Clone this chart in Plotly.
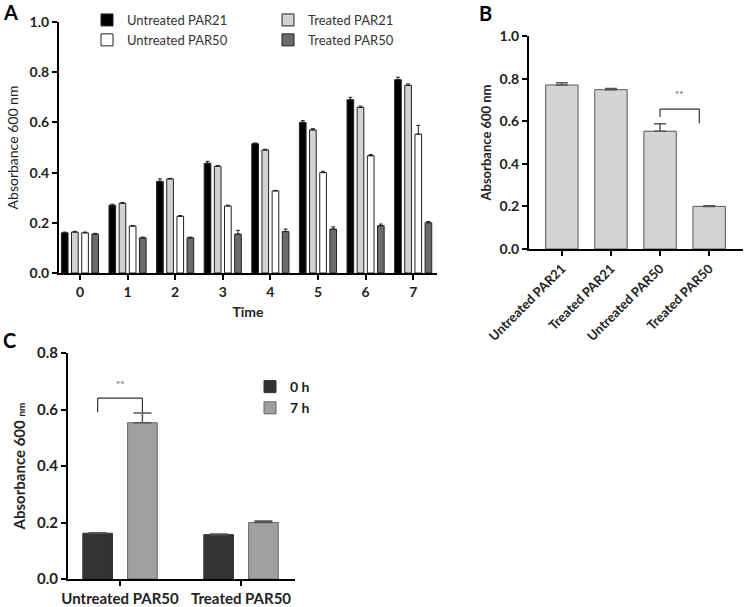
import plotly.graph_objects as go

# Panel A - growth over time
time_h = [0, 1, 2, 3, 4, 5, 6, 7]
untreated_par21 = [0.160, 0.270, 0.365, 0.437, 0.515, 0.600, 0.690, 0.770]
untreated_par21_err = [0.003, 0.004, 0.010, 0.008, 0.003, 0.007, 0.010, 0.010]
treated_par21 = [0.163, 0.278, 0.375, 0.425, 0.490, 0.570, 0.660, 0.748]
treated_par21_err = [0.003, 0.003, 0.002, 0.003, 0.003, 0.005, 0.005, 0.005]
untreated_par50 = [0.160, 0.187, 0.226, 0.267, 0.327, 0.400, 0.467, 0.553]
untreated_par50_err = [0.003, 0.002, 0.003, 0.003, 0.002, 0.005, 0.005, 0.035]
treated_par50 = [0.155, 0.140, 0.140, 0.155, 0.165, 0.175, 0.188, 0.200]
treated_par50_err = [0.003, 0.003, 0.003, 0.015, 0.010, 0.009, 0.007, 0.005]

# Panel B - 7 h values
groups_b = ["Untreated PAR21", "Treated PAR21", "Untreated PAR50", "Treated PAR50"]
values_b = [0.770, 0.748, 0.553, 0.200]
errors_b = [0.010, 0.005, 0.035, 0.003]

# Panel C - 0 h vs 7 h
groups_c = ["Untreated PAR50", "Treated PAR50"]
values_0h = [0.162, 0.157]
errors_0h = [0.002, 0.002]
values_7h = [0.553, 0.200]
errors_7h = [0.035, 0.005]

W, H = 748, 607
FONT = "Lato"


def px_x(p):
    return p / W


def px_y(p):
    return 1 - p / H


fig = go.Figure()

series_a = [
    ("Untreated PAR21", untreated_par21, untreated_par21_err, "#000000", "legend"),
    ("Treated PAR21", treated_par21, treated_par21_err, "#d2d2d2", "legend2"),
    ("Untreated PAR50", untreated_par50, untreated_par50_err, "#ffffff", "legend"),
    ("Treated PAR50", treated_par50, treated_par50_err, "#6b6b6b", "legend2"),
]
bw = 0.14
centers = [-0.32, -0.107, 0.107, 0.32]
for k, (name, vals, errs, col, leg) in enumerate(series_a):
    fig.add_trace(go.Bar(
        x=time_h, y=vals, name=name, legend=leg,
        width=bw, offset=centers[k] - bw / 2,
        marker=dict(color=col, line=dict(color="#222222", width=1)),
        error_y=dict(type="data", array=errs, arrayminus=[0] * len(errs),
                     symmetric=False, color="#222222", thickness=1, width=2),
        xaxis="x", yaxis="y"))

fig.add_trace(go.Bar(
    x=list(range(len(groups_b))), y=values_b, showlegend=False,
    width=0.66,
    marker=dict(color="#d4d4d4", line=dict(color="#555555", width=1)),
    error_y=dict(type="data", array=errors_b, arrayminus=[0] * 4,
                 symmetric=False, color="#555555", thickness=1.5, width=6),
    xaxis="x2", yaxis="y2"))

bwc = 0.245
for name, vals, errs, col, lc, off in [
        ("0 h", values_0h, errors_0h, "#333333", "#333333", -0.185),
        ("7 h", values_7h, errors_7h, "#a0a0a0", "#666666", 0.185)]:
    fig.add_trace(go.Bar(
        x=list(range(len(groups_c))), y=vals, name=name, legend="legend3",
        width=bwc, offset=off - bwc / 2,
        marker=dict(color=col, line=dict(color=lc, width=1)),
        error_y=dict(type="data", array=errs, arrayminus=[0] * len(errs),
                     symmetric=False, color="#555555", thickness=1.5, width=9),
        xaxis="x3", yaxis="y3"))

axis_common = dict(showline=True, linecolor="black", linewidth=2, showgrid=False,
                   zeroline=False, ticks="outside", tickcolor="black", tickwidth=2,
                   ticklen=5, automargin=False,
                   tickfont=dict(family=FONT, size=14, color="#222222", weight="bold"))

fig.update_layout(
    width=W, height=H, autosize=False,
    margin=dict(l=0, r=0, t=0, b=0),
    paper_bgcolor="white", plot_bgcolor="white",
    barmode="group",
    font=dict(family=FONT, color="#222222"),
    xaxis=dict(axis_common, domain=[px_x(59), px_x(437)], anchor="y",
               range=[-0.44, 7.5], tickvals=time_h, ticktext=[str(t) for t in time_h],
               title=dict(text="Time", font=dict(size=14, weight="bold"), standoff=8)),
    yaxis=dict(axis_common, domain=[px_y(273), px_y(22)], anchor="x",
               range=[0, 1.0], dtick=0.2, tickformat=".1f",
               title=dict(text="Absorbance 600 nm", font=dict(size=14), standoff=8)),
    xaxis2=dict(axis_common, domain=[px_x(529), px_x(743)], anchor="y2",
                range=[-0.67, 3.69], tickvals=list(range(len(groups_b))), ticktext=groups_b,
                tickangle=-45, tickfont=dict(family=FONT, size=13, color="#222222", weight="bold")),
    yaxis2=dict(axis_common, domain=[px_y(249), px_y(36)], anchor="x2",
                range=[0, 1.0], dtick=0.2, tickformat=".1f",
                title=dict(text="Absorbance 600 nm", font=dict(size=13, weight="bold"), standoff=5)),
    xaxis3=dict(axis_common, domain=[px_x(68), px_x(295)], anchor="y3",
                range=[-0.43, 1.446], tickvals=list(range(len(groups_c))), ticktext=groups_c,
                tickfont=dict(family=FONT, size=15, color="#222222", weight="bold")),
    yaxis3=dict(axis_common, domain=[px_y(579), px_y(353)], anchor="x3",
                range=[0, 0.8], dtick=0.2, tickformat=".1f",
                tickfont=dict(family=FONT, size=15, color="#222222", weight="bold"),
                title=dict(text="Absorbance 600 <span style='font-size:10px'>nm</span>",
                           font=dict(size=15, weight="bold"), standoff=8)),
    legend=dict(x=px_x(87), y=px_y(5), xanchor="left", yanchor="top",
                font=dict(size=13, color="#333333"), bgcolor="rgba(0,0,0,0)",
                tracegroupgap=0, itemwidth=30),
    legend2=dict(x=px_x(268), y=px_y(5), xanchor="left", yanchor="top",
                 font=dict(size=13, color="#333333"), bgcolor="rgba(0,0,0,0)",
                 tracegroupgap=0, itemwidth=30),
    legend3=dict(x=px_x(250), y=px_y(371), xanchor="left", yanchor="top",
                 font=dict(size=14, color="#222222", weight="bold"), bgcolor="rgba(0,0,0,0)",
                 tracegroupgap=0, itemwidth=30),
)

# significance brackets
for xr, yr, xa, xb, ya, yb, top, star_y in [
        ("x2", "y2", 2, 2.8, 0.62, 0.59, 0.657, 0.73),
        ("x3", "y3", -0.185, 0.185, 0.59, 0.59, 0.64, 0.69)]:
    line = dict(color="#333333", width=1.2)
    fig.add_shape(type="line", xref=xr, yref=yr, x0=xa, x1=xa, y0=ya, y1=top, line=line)
    fig.add_shape(type="line", xref=xr, yref=yr, x0=xa, x1=xb, y0=top, y1=top, line=line)
    fig.add_shape(type="line", xref=xr, yref=yr, x0=xb, x1=xb, y0=top, y1=yb, line=line)
    fig.add_annotation(xref=xr, yref=yr, x=(xa + xb) / 2, y=star_y, text="**",
                       showarrow=False, font=dict(size=10, color="#555555"))

# panel letters
for letter, lx, ly in [("A", 10, 12), ("B", 485, 13), ("C", 9, 340)]:
    fig.add_annotation(xref="paper", yref="paper", x=px_x(lx), y=px_y(ly), text=letter,
                       xanchor="center", yanchor="middle",
                       showarrow=False, font=dict(size=20, color="black", weight="bold"))

fig.write_html("out.html", config={"displayModeBar": False},
               post_script="document.body.style.margin='0';")
